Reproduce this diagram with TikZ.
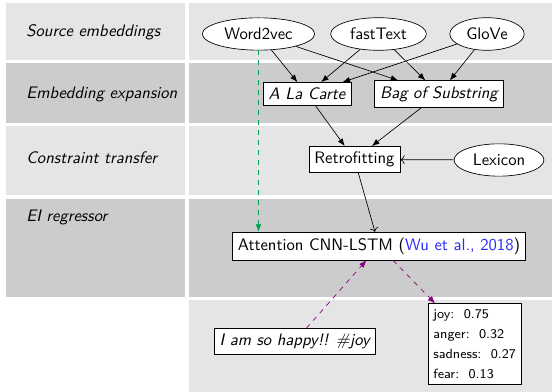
\documentclass[tikz,border=0pt]{standalone}
\usetikzlibrary{shapes.geometric,arrows.meta}
\definecolor{rowA}{gray}{0.9}
\definecolor{rowB}{gray}{0.8}
\definecolor{embgreen}{RGB}{0,160,80}
\definecolor{predpurple}{RGB}{128,0,128}
\definecolor{citeblue}{RGB}{40,40,255}
\begin{document}
\begin{tikzpicture}[x=0.6pt,y=-0.6pt,font=\sffamily,
  src/.style={ellipse,draw,fill=white},
  box/.style={rectangle,draw,fill=white},
  lbl/.style={anchor=base west,inner sep=0pt,font=\sffamily\itshape},
  arr/.style={-{Latex[length=4.5pt,width=3.5pt]}},
  oarr/.style={->},
  gdash/.style={dashed,draw=embgreen,-{Latex[length=4.5pt,width=3.5pt]},embgreen},
  pdash/.style={dashed,draw=predpurple,-{Latex[length=4.5pt,width=3.5pt]},predpurple}]
\useasboundingbox (0,0) rectangle (552,392);
% row backgrounds
\fill[rowA] (6,3) rectangle (185,60);
\fill[rowA] (189,3) rectangle (552,60);
\fill[rowB] (6,63) rectangle (185,123);
\fill[rowB] (189,63) rectangle (552,123);
\fill[rowA] (6,126) rectangle (185,195);
\fill[rowA] (189,126) rectangle (552,195);
\fill[rowB] (6,199) rectangle (185,297);
\fill[rowB] (189,199) rectangle (552,297);
\fill[rowA] (189,300) rectangle (552,392);
% row labels
\node[lbl] (l1) at (26,37) {Source embeddings};
\node[lbl] (l2) at (26,99) {Embedding expansion};
\node[lbl] (l3) at (26,164) {Constraint transfer};
\node[lbl] (l4) at (26,222) {EI regressor};
% nodes
\node[src] (w2v) at (258.5,34) {Word2vec};
\node[src] (ft) at (378.5,34) {fastText};
\node[src] (glove) at (487,34) {GloVe};
\node[box,font=\sffamily\itshape] (alc) at (307,94) {A La Carte};
\node[box,font=\sffamily\itshape] (bos) at (439,94) {Bag of Substring};
\node[box] (retro) at (354.5,159.5) {Retrofitting};
\node[src] (lex) at (499,160) {Lexicon};
\node[box] (att) at (379,246) {Attention CNN-LSTM (\textcolor{citeblue}{Wu et al., 2018})};
\node[box,font=\sffamily\itshape] (happy) at (294.7,341.5) {I am so happy!! \#joy};
\node[box,font=\sffamily\footnotesize,align=left] (out) at (474.7,344)
  {joy:\ \ 0.75\\[2.5pt] anger:\ \ 0.32\\[2.5pt] sadness:\ \ 0.27\\[2.5pt] fear:\ \ 0.13};
% connectors
\draw[arr] (w2v) -- (alc);
\draw[arr] (w2v) -- (bos);
\draw[arr] (ft) -- (alc);
\draw[arr] (ft) -- (bos);
\draw[arr] (glove) -- (alc);
\draw[arr] (glove) -- (bos);
\draw[arr] (alc) -- (retro);
\draw[arr] (bos) -- (retro);
\draw[oarr] (lex) -- (retro);
\draw[oarr] (retro) -- (att);
\draw[gdash] (w2v.south) -- (w2v.south |- att.north);
\draw[pdash] (happy) -- (att);
\draw[pdash] (att) -- (out);
\end{tikzpicture}
\end{document}
